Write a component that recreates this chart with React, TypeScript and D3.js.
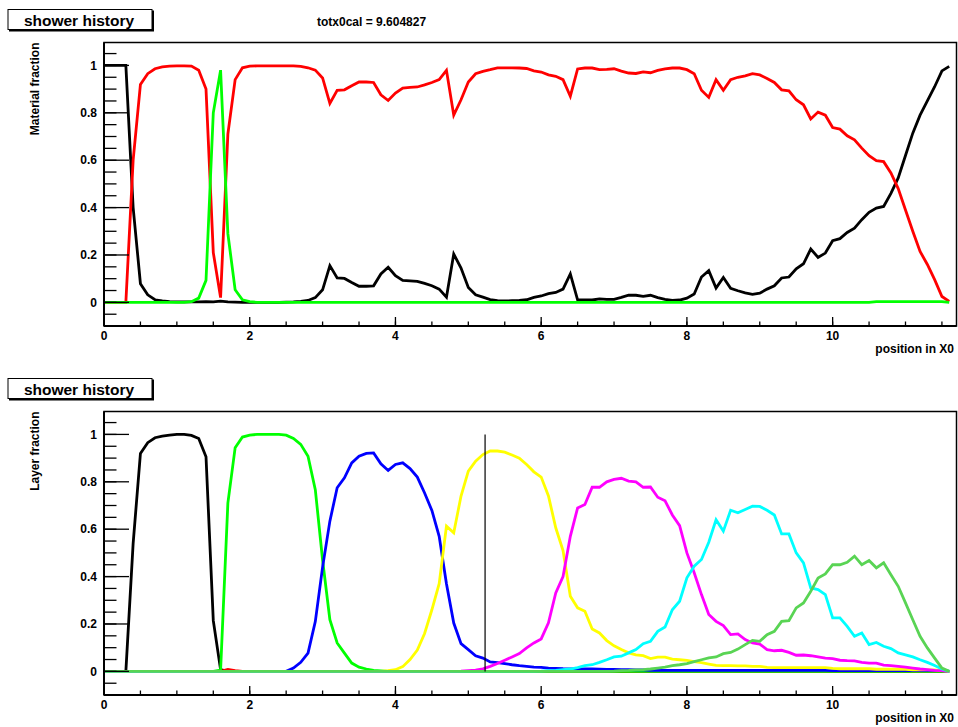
import React from 'react';
import * as d3 from 'd3';

// sampling positions along the shower (in X0), one point every 0.1 X0
const positions: number[] = d3.range(117).map((i) => i / 10);

const xTickLabels = ['0', '2', '4', '6', '8', '10'];
const xTickValues = [0, 2, 4, 6, 8, 10];
const yTickLabels = ['0', '0.2', '0.4', '0.6', '0.8', '1'];
const yTickValues = [0, 0.2, 0.4, 0.6, 0.8, 1];

const totx0cal = 'totx0cal = 9.604827';
const markerPosition = 5.23;

// ---------- top panel: material fraction ----------
const matBlack = [
  1, 1, 1, 1, 0.4, 0.079, 0.032, 0.011, 0.006, 0.003,
  0.002, 0.002, 0.002, 0.002, 0.003, 0.002, 0.005, 0.002, 0.001, 0,
  0, 0, 0, 0, 0, 0.001, 0.002, 0.004, 0.008, 0.02,
  0.053, 0.155, 0.103, 0.101, 0.084, 0.068, 0.068, 0.07, 0.12, 0.148,
  0.113, 0.093, 0.091, 0.089, 0.08, 0.07, 0.056, 0.022, 0.204, 0.145,
  0.063, 0.032, 0.022, 0.012, 0.007, 0.006, 0.007, 0.008, 0.011, 0.021,
  0.027, 0.037, 0.042, 0.056, 0.12, 0.011, 0.01, 0.01, 0.015, 0.013,
  0.013, 0.021, 0.03, 0.03, 0.025, 0.03, 0.02, 0.013, 0.008, 0.01,
  0.018, 0.035, 0.107, 0.134, 0.06, 0.105, 0.059, 0.049, 0.04, 0.034,
  0.039, 0.056, 0.07, 0.103, 0.107, 0.142, 0.163, 0.225, 0.19, 0.208,
  0.26, 0.269, 0.295, 0.313, 0.349, 0.38, 0.398, 0.405, 0.46, 0.525,
  0.62, 0.714, 0.79, 0.85, 0.91, 0.977, 0.996,
];

const matRed = [
  0, 0, 0, 0, 0.6, 0.92, 0.965, 0.986, 0.994, 0.997,
  0.998, 0.998, 0.997, 0.98, 0.9, 0.21, 0.02, 0.71, 0.94, 0.99,
  0.997, 0.998, 0.998, 0.998, 0.998, 0.998, 0.998, 0.996, 0.99, 0.98,
  0.947, 0.84, 0.895, 0.897, 0.914, 0.93, 0.93, 0.928, 0.876, 0.852,
  0.883, 0.904, 0.907, 0.909, 0.918, 0.928, 0.94, 0.979, 0.79, 0.855,
  0.93, 0.965, 0.975, 0.982, 0.99, 0.99, 0.99, 0.989, 0.987, 0.977,
  0.972, 0.96, 0.954, 0.94, 0.87, 0.985, 0.989, 0.989, 0.982, 0.983,
  0.986, 0.976, 0.968, 0.966, 0.973, 0.969, 0.979, 0.985, 0.989, 0.989,
  0.982, 0.965, 0.895, 0.865, 0.94, 0.895, 0.94, 0.95, 0.956, 0.965,
  0.96, 0.945, 0.928, 0.897, 0.893, 0.855, 0.834, 0.774, 0.803, 0.79,
  0.738, 0.731, 0.703, 0.686, 0.651, 0.619, 0.598, 0.594, 0.546, 0.48,
  0.39, 0.3, 0.215, 0.16, 0.096, 0.025, 0.004,
];

const matGreen = [
  0, 0, 0, 0, 0, 0, 0, 0, 0, 0,
  0, 0, 0.003, 0.018, 0.093, 0.8, 0.98, 0.29, 0.053, 0.011,
  0.003, 0, 0, 0, 0, 0, 0, 0, 0, 0,
  0, 0, 0, 0, 0, 0, 0, 0, 0, 0,
  0, 0, 0, 0, 0, 0, 0, 0, 0, 0,
  0, 0, 0, 0, 0, 0, 0, 0, 0, 0,
  0, 0, 0, 0, 0, 0, 0, 0, 0, 0,
  0, 0, 0, 0, 0, 0, 0, 0, 0, 0,
  0, 0, 0, 0, 0, 0, 0, 0, 0, 0,
  0, 0, 0, 0, 0, 0, 0, 0, 0, 0,
  0, 0, 0, 0, 0, 0, 0.003, 0.003, 0.003, 0.003,
  0.003, 0.003, 0.003, 0.003, 0.003, 0.003, 0,
];

// ---------- bottom panel: layer fraction ----------
const layer1 = [
  0, 0, 0, 0, 0.54, 0.92, 0.965, 0.986, 0.993, 0.997,
  1, 1, 0.996, 0.983, 0.906, 0.214, 0.007, 0, 0, 0,
  0, 0, 0, 0, 0, 0, 0, 0, 0, 0,
  0, 0, 0, 0, 0, 0, 0, 0, 0, 0,
  0, 0, 0, 0, 0, 0, 0, 0, 0, 0,
  0, 0, 0, 0, 0, 0, 0, 0, 0, 0,
  0, 0, 0, 0, 0, 0, 0, 0, 0, 0,
  0, 0, 0, 0, 0, 0, 0, 0, 0, 0,
  0, 0, 0, 0, 0, 0, 0, 0, 0, 0,
  0, 0, 0, 0, 0, 0, 0, 0, 0, 0,
  0, 0, 0, 0, 0, 0, 0, 0, 0, 0,
  0, 0, 0, 0, 0, 0, 0,
];

const layer0 = [
  0, 0, 0, 0, 0, 0, 0, 0, 0, 0,
  0, 0, 0, 0, 0, 0, 0, 0.008, 0.003, 0,
  0, 0, 0, 0, 0, 0, 0, 0, 0, 0,
  0, 0, 0, 0, 0, 0, 0, 0, 0, 0,
  0, 0, 0, 0, 0, 0, 0, 0, 0, 0,
  0, 0, 0, 0, 0, 0, 0, 0, 0, 0,
  0, 0, 0, 0, 0, 0, 0, 0, 0, 0,
  0, 0, 0, 0, 0, 0, 0, 0, 0, 0,
  0, 0, 0, 0, 0, 0, 0, 0, 0, 0,
  0, 0, 0, 0, 0, 0, 0, 0, 0, 0,
  0, 0, 0, 0, 0, 0, 0, 0, 0, 0,
  0, 0, 0, 0, 0, 0, 0,
];

const layer2 = [
  0, 0, 0, 0, 0, 0, 0, 0, 0, 0,
  0, 0, 0, 0, 0, 0, 0.005, 0.71, 0.944, 0.989,
  0.997, 1, 1, 1, 1, 0.997, 0.983, 0.958, 0.908, 0.767,
  0.47, 0.218, 0.12, 0.077, 0.035, 0.018, 0.01, 0.004, 0.002, 0,
  0, 0, 0, 0, 0, 0, 0, 0, 0, 0,
  0, 0, 0, 0, 0, 0, 0, 0, 0, 0,
  0, 0, 0, 0, 0, 0, 0, 0, 0, 0,
  0, 0, 0, 0, 0, 0, 0, 0, 0, 0,
  0, 0, 0, 0, 0, 0, 0, 0, 0, 0,
  0, 0, 0, 0, 0, 0, 0, 0, 0, 0,
  0, 0, 0, 0, 0, 0, 0, 0, 0, 0,
  0, 0, 0, 0, 0, 0, 0,
];

const layer3 = [
  0, 0, 0, 0, 0, 0, 0, 0, 0, 0,
  0, 0, 0, 0, 0, 0, 0, 0, 0, 0,
  0, 0, 0, 0, 0, 0, 0.014, 0.038, 0.077, 0.21,
  0.44, 0.634, 0.775, 0.817, 0.88, 0.908, 0.92, 0.922, 0.876, 0.848,
  0.873, 0.88, 0.856, 0.82, 0.753, 0.679, 0.57, 0.37, 0.204, 0.117,
  0.092, 0.066, 0.056, 0.04, 0.037, 0.033, 0.028, 0.024, 0.021, 0.018,
  0.017, 0.014, 0.013, 0.011, 0.01, 0.01, 0.01, 0.01, 0.009, 0.008,
  0.008, 0.007, 0.007, 0.006, 0.006, 0.004, 0.004, 0.004, 0.004, 0.004,
  0.004, 0.004, 0.004, 0.004, 0.004, 0.004, 0.004, 0.004, 0.004, 0.004,
  0.004, 0.004, 0.004, 0.004, 0.004, 0.004, 0.004, 0.004, 0.004, 0.004,
  0.003, 0.003, 0.003, 0.003, 0.003, 0.003, 0.003, 0.003, 0.003, 0.003,
  0.003, 0.003, 0.003, 0.003, 0.003, 0.003, 0,
];

const layer4 = [
  0, 0, 0, 0, 0, 0, 0, 0, 0, 0,
  0, 0, 0, 0, 0, 0, 0, 0, 0, 0,
  0, 0, 0, 0, 0, 0, 0, 0, 0, 0,
  0, 0, 0, 0, 0, 0, 0, 0, 0, 0.003,
  0.007, 0.02, 0.05, 0.09, 0.16, 0.26, 0.37, 0.613, 0.585, 0.74,
  0.845, 0.887, 0.915, 0.93, 0.93, 0.925, 0.913, 0.9, 0.873, 0.842,
  0.82, 0.74, 0.606, 0.51, 0.317, 0.268, 0.254, 0.179, 0.162, 0.13,
  0.108, 0.092, 0.078, 0.07, 0.066, 0.054, 0.06, 0.06, 0.052, 0.049,
  0.046, 0.041, 0.037, 0.031, 0.025, 0.024, 0.024, 0.023, 0.023, 0.021,
  0.021, 0.017, 0.016, 0.016, 0.016, 0.016, 0.016, 0.016, 0.016, 0.016,
  0.013, 0.011, 0.011, 0.011, 0.011, 0.011, 0.009, 0.009, 0.009, 0.009,
  0.009, 0.006, 0.006, 0.006, 0.006, 0.003, 0,
];

const layer5 = [
  0, 0, 0, 0, 0, 0, 0, 0, 0, 0,
  0, 0, 0, 0, 0, 0, 0, 0, 0, 0,
  0, 0, 0, 0, 0, 0, 0, 0, 0, 0,
  0, 0, 0, 0, 0, 0, 0, 0, 0, 0,
  0, 0, 0, 0, 0, 0, 0, 0, 0, 0.001,
  0.003, 0.005, 0.011, 0.021, 0.033, 0.047, 0.061, 0.075, 0.099, 0.12,
  0.137, 0.205, 0.331, 0.4, 0.57, 0.69, 0.704, 0.777, 0.777, 0.8,
  0.81, 0.815, 0.803, 0.8, 0.777, 0.778, 0.735, 0.72, 0.66, 0.615,
  0.5, 0.416, 0.324, 0.24, 0.211, 0.193, 0.155, 0.158, 0.134, 0.12,
  0.115, 0.092, 0.087, 0.089, 0.08, 0.068, 0.069, 0.066, 0.061, 0.056,
  0.054, 0.047, 0.045, 0.044, 0.038, 0.035, 0.035, 0.026, 0.024, 0.021,
  0.018, 0.014, 0.01, 0.007, 0.004, 0.003, 0,
];

const layer6 = [
  0, 0, 0, 0, 0, 0, 0, 0, 0, 0,
  0, 0, 0, 0, 0, 0, 0, 0, 0, 0,
  0, 0, 0, 0, 0, 0, 0, 0, 0, 0,
  0, 0, 0, 0, 0, 0, 0, 0, 0, 0,
  0, 0, 0, 0, 0, 0, 0, 0, 0, 0,
  0, 0, 0, 0, 0, 0, 0, 0, 0, 0,
  0.001, 0.003, 0.004, 0.007, 0.01, 0.016, 0.024, 0.028, 0.038, 0.049,
  0.061, 0.064, 0.078, 0.092, 0.117, 0.127, 0.169, 0.187, 0.26, 0.296,
  0.395, 0.444, 0.472, 0.545, 0.64, 0.592, 0.68, 0.669, 0.683, 0.697,
  0.696, 0.68, 0.66, 0.58, 0.58, 0.5, 0.458, 0.352, 0.345, 0.324,
  0.226, 0.226, 0.19, 0.148, 0.162, 0.113, 0.122, 0.106, 0.096, 0.078,
  0.07, 0.061, 0.049, 0.038, 0.025, 0.01, 0,
];

const layer7 = [
  0, 0, 0, 0, 0, 0, 0, 0, 0, 0,
  0, 0, 0, 0, 0, 0, 0, 0, 0, 0,
  0, 0, 0, 0, 0, 0, 0, 0, 0, 0,
  0, 0, 0, 0, 0, 0, 0, 0, 0, 0,
  0, 0, 0, 0, 0, 0, 0, 0, 0, 0,
  0, 0, 0, 0, 0, 0, 0, 0, 0, 0,
  0, 0, 0, 0, 0, 0, 0, 0, 0, 0,
  0.001, 0.003, 0.004, 0.006, 0.007, 0.01, 0.014, 0.018, 0.024, 0.028,
  0.033, 0.041, 0.049, 0.057, 0.061, 0.075, 0.08, 0.094, 0.113, 0.131,
  0.127, 0.155, 0.169, 0.211, 0.214, 0.268, 0.289, 0.338, 0.394, 0.411,
  0.45, 0.45, 0.46, 0.486, 0.45, 0.468, 0.437, 0.458, 0.408, 0.359,
  0.289, 0.218, 0.148, 0.099, 0.056, 0.014, 0,
];

const FONT = "'Liberation Sans', Arial, Helvetica, sans-serif";

type Series = { values: number[]; color: string };

const topSeries: Series[] = [
  { values: matBlack, color: '#000000' },
  { values: matRed, color: '#ff0000' },
  { values: matGreen, color: '#00ff00' },
];

const bottomSeries: Series[] = [
  { values: layer1, color: '#000000' },
  { values: layer0, color: '#ff0000' },
  { values: layer2, color: '#00ff00' },
  { values: layer3, color: '#0000ff' },
  { values: layer4, color: '#ffff00' },
  { values: layer5, color: '#ff00ff' },
  { values: layer6, color: '#00ffff' },
  { values: layer7, color: '#59d454' },
];

function Panel(props: {
  top: number;
  series: Series[];
  yTitle: string;
  showTotx: boolean;
  marker?: number;
}) {
  const { top, series, yTitle, showTotx, marker } = props;
  const left = 104;
  const right = 956.5;
  const bottom = top + 283.5;
  const x = d3.scaleLinear().domain([0, 11.7]).range([left, right]);
  const y = d3.scaleLinear().domain([-0.0997, 1.0967]).range([bottom, top]);
  const line = d3
    .line<number>()
    .x((_, i) => x(positions[i]))
    .y((d) => y(d));

  const xMinor = d3.range(0, 11.7, 0.5);
  const yMinor = d3.range(-1, 22).map((k) => k * 0.05);

  const boxTop = top - 33;

  return (
    <g>
      {/* title box with shadow */}
      <rect x={9} y={boxTop + 1} width={145} height={21} fill="#000" />
      <rect x={8} y={boxTop} width={144} height={20} fill="#fff" stroke="#000" strokeWidth={1} />
      <text
        x={79}
        y={boxTop + 16}
        fontFamily={FONT}
        fontWeight="bold"
        fontSize={15.5}
        textAnchor="middle"
        fill="#000"
      >
        shower history
      </text>
      {showTotx && (
        <text x={317} y={25.5} fontFamily={FONT} fontWeight="bold" fontSize={12} fill="#000">
          {totx0cal}
        </text>
      )}

      {/* frame */}
      <rect
        x={left}
        y={top}
        width={right - left}
        height={bottom - top}
        fill="none"
        stroke="#000"
        strokeWidth={1.5}
      />

      {/* data */}
      {series.map((s, i) => (
        <path
          key={i}
          d={line(s.values) || ''}
          fill="none"
          stroke={s.color}
          strokeWidth={2.8}
          strokeLinejoin="miter"
        />
      ))}

      {marker !== undefined && (
        <line
          x1={x(marker)}
          x2={x(marker)}
          y1={y(0)}
          y2={y(1)}
          stroke="#000"
          strokeWidth={1.2}
        />
      )}

      {/* axes lines */}
      <line x1={left} x2={left} y1={top} y2={bottom} stroke="#000" strokeWidth={2} />
      <line x1={left} x2={right} y1={bottom} y2={bottom} stroke="#000" strokeWidth={2} />

      {/* y ticks */}
      {yMinor.map((v, i) => (
        <line key={'ym' + i} x1={left} x2={left + 12.5} y1={y(v)} y2={y(v)} stroke="#000" strokeWidth={1.3} />
      ))}
      {yTickValues.map((v, i) => (
        <line key={'yM' + i} x1={left} x2={left + 25} y1={y(v)} y2={y(v)} stroke="#000" strokeWidth={1.3} />
      ))}
      {yTickValues.map((v, i) => (
        <text
          key={'yl' + i}
          x={97}
          y={y(v) + 4.3}
          textAnchor="end"
          fontFamily={FONT}
          fontWeight="bold"
          fontSize={12}
          fill="#000"
        >
          {yTickLabels[i]}
        </text>
      ))}

      {/* x ticks */}
      {xMinor.map((v, i) => (
        <line key={'xm' + i} x1={x(v)} x2={x(v)} y1={bottom} y2={bottom - 4.5} stroke="#000" strokeWidth={1.3} />
      ))}
      {xTickValues.map((v, i) => (
        <line key={'xM' + i} x1={x(v)} x2={x(v)} y1={bottom} y2={bottom - 9} stroke="#000" strokeWidth={1.3} />
      ))}
      {xTickValues.map((v, i) => (
        <text
          key={'xl' + i}
          x={x(v)}
          y={bottom + 14}
          textAnchor="middle"
          fontFamily={FONT}
          fontWeight="bold"
          fontSize={12}
          fill="#000"
        >
          {xTickLabels[i]}
        </text>
      ))}

      {/* axis titles */}
      <text
        x={954}
        y={bottom + 26.5}
        textAnchor="end"
        fontFamily={FONT}
        fontWeight="bold"
        fontSize={12}
        fill="#000"
      >
        position in X0
      </text>
      <text
        transform={`translate(39.3, ${top}) rotate(-90)`}
        textAnchor="end"
        fontFamily={FONT}
        fontWeight="bold"
        fontSize={12}
        fill="#000"
      >
        {yTitle}
      </text>
    </g>
  );
}

export default function App() {
  return (
    <svg
      width={958}
      height={727}
      style={{ position: 'absolute', left: 0, top: 0, background: '#fff' }}
    >
      <rect x={0} y={0} width={958} height={727} fill="#fff" />
      <Panel top={42.5} series={topSeries} yTitle="Material fraction" showTotx={true} />
      <Panel
        top={411.5}
        series={bottomSeries}
        yTitle="Layer fraction"
        showTotx={false}
        marker={markerPosition}
      />
    </svg>
  );
}
